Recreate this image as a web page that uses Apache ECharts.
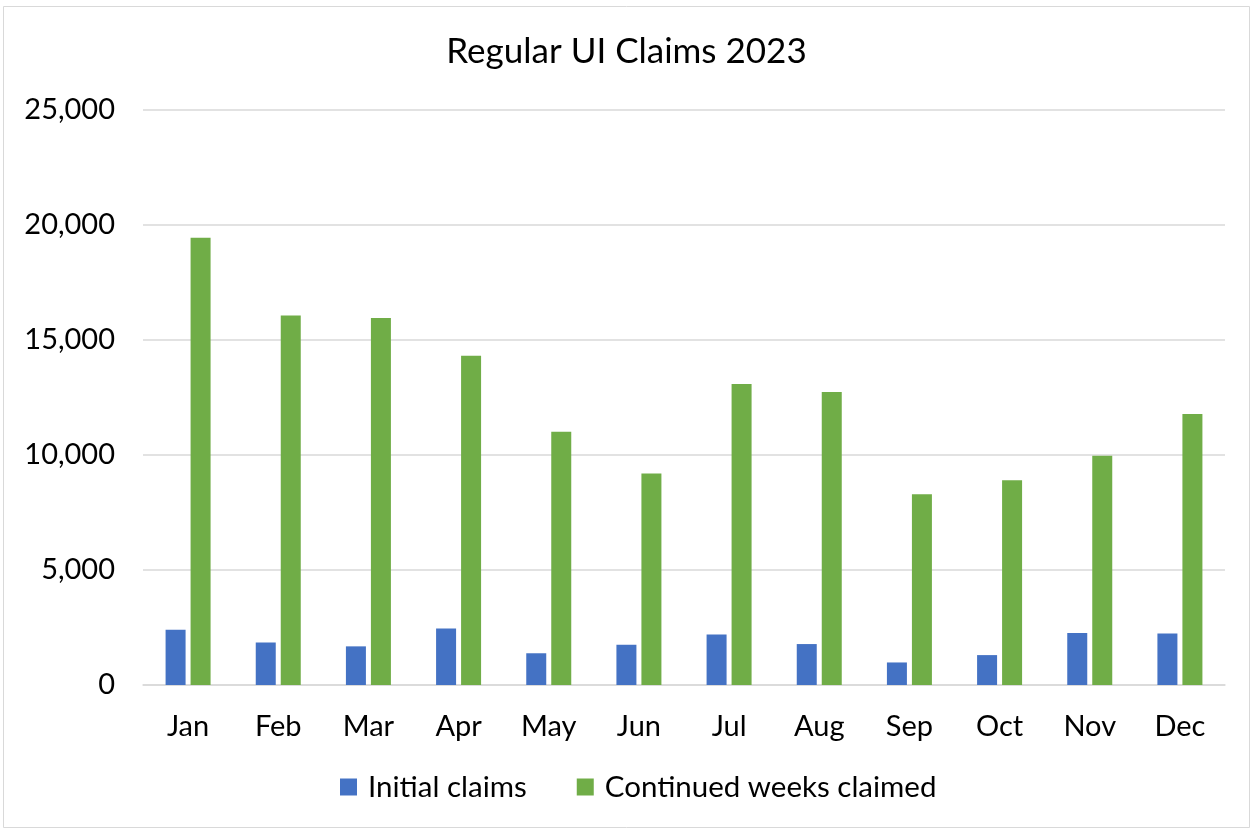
<!DOCTYPE html>
<html>
<head>
<meta charset="utf-8">
<script src="https://cdn.jsdelivr.net/npm/echarts@6/dist/echarts.min.js"></script>
<style>
  html, body { margin: 0; padding: 0; background: #fff; }
  #chart { width: 1253px; height: 829px; }
</style>
</head>
<body>
<div id="chart"></div>
<script>
var months = ['Jan', 'Feb', 'Mar', 'Apr', 'May', 'Jun', 'Jul', 'Aug', 'Sep', 'Oct', 'Nov', 'Dec'];
var initialClaims = [2400, 1850, 1680, 2460, 1380, 1750, 2200, 1780, 980, 1300, 2260, 2240];
var continuedWeeks = [19450, 16070, 15960, 14320, 11010, 9200, 13090, 12740, 8290, 8900, 9970, 11780];
var yTicks = [0, 25000, 5000]; // min, max, interval

var font = 'Lato';
var myChart = echarts.init(document.getElementById('chart'));

myChart.setOption({
  backgroundColor: '#fff',
  animation: false,
  title: {
    text: 'Regular UI Claims 2023',
    left: 'center',
    top: 29,
    textStyle: { fontFamily: font, fontSize: 35, fontWeight: 'normal', color: '#000' }
  },
  legend: {
    bottom: 22,
    left: 335,
    itemWidth: 17,
    itemHeight: 17,
    itemGap: 50,
    icon: 'rect',
    textStyle: { fontFamily: font, fontSize: 29.5, color: '#000', padding: [0, 0, 0, 6] },
    data: ['Initial claims', 'Continued weeks claimed']
  },
  grid: { left: 143, right: 28, top: 110, bottom: 144 },
  xAxis: {
    type: 'category',
    data: months,
    axisLine: { lineStyle: { color: '#d9d9d9', width: 1.5 } },
    axisTick: { show: false },
    axisLabel: { margin: 27, fontFamily: font, fontSize: 29, color: '#000' }
  },
  yAxis: {
    type: 'value',
    min: yTicks[0],
    max: yTicks[1],
    interval: yTicks[2],
    axisLine: { show: false },
    axisTick: { show: false },
    splitLine: { lineStyle: { color: '#d9d9d9', width: 1.5 } },
    axisLabel: {
      margin: 28,
      fontFamily: font, fontSize: 29, color: '#000',
      formatter: function (v) { return v.toLocaleString('en-US'); }
    }
  },
  series: [
    {
      name: 'Initial claims',
      type: 'bar',
      data: initialClaims,
      barWidth: 20,
      barGap: '25%',
      itemStyle: { color: '#4472c4' }
    },
    {
      name: 'Continued weeks claimed',
      type: 'bar',
      data: continuedWeeks,
      barWidth: 20,
      itemStyle: { color: '#70ad47' }
    }
  ],
  graphic: [{
    type: 'rect',
    shape: { x: 3.5, y: 6.5, width: 1246, height: 821 },
    style: { fill: 'none', stroke: '#d9d9d9', lineWidth: 1 },
    silent: true
  }]
});
</script>
</body>
</html>
